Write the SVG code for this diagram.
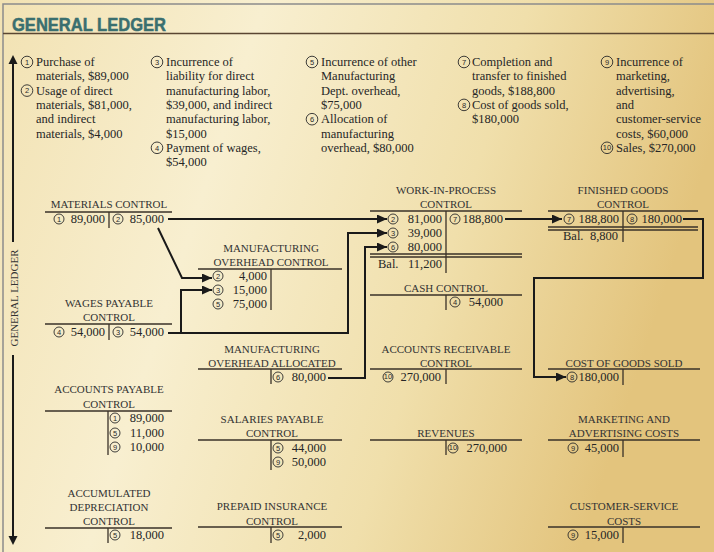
<svg xmlns="http://www.w3.org/2000/svg" width="714" height="552" viewBox="0 0 714 552">
<defs>
<linearGradient id="bg" x1="0" y1="0" x2="1" y2="0.25">
<stop offset="0" stop-color="#f2e2b3"/>
<stop offset="0.35" stop-color="#f8efd0"/>
<stop offset="0.7" stop-color="#f0dfab"/>
<stop offset="1" stop-color="#e3c47d"/>
</linearGradient>
<marker id="ah" markerUnits="userSpaceOnUse" markerWidth="11" markerHeight="9" refX="10" refY="4.5" orient="auto">
<path d="M0,0 L10,4.5 L0,9 Z" fill="#1a1a1a"/>
</marker>
<style>
.t{font-family:"Liberation Serif",serif;font-size:11px;fill:#333;text-anchor:middle}
.e{font-family:"Liberation Serif",serif;font-size:12.5px;fill:#262626;text-anchor:end}
.b{font-family:"Liberation Serif",serif;font-size:12.5px;fill:#262626}
.d{font-family:"Liberation Serif",serif;font-size:12.5px;fill:#262626}
.c{fill:none;stroke:#2a2a2a;stroke-width:0.9}
.n{font-family:"Liberation Sans",sans-serif;font-size:7.5px;fill:#2a2a2a;text-anchor:middle}
.ln{stroke:#3a3228;stroke-width:1.3;fill:none}
.cn{stroke:#1a1a1a;stroke-width:2;fill:none;stroke-linejoin:miter}
</style>
</defs>
<rect x="0" y="0" width="714" height="552" fill="url(#bg)"/>
<path d="M3,552 V4 H714" stroke="#8c8c8c" stroke-width="1.5" fill="none"/>
<line x1="3" y1="33.5" x2="714" y2="33.5" stroke="#5a4632" stroke-width="1.5"/>
<text x="12" y="31" font-family="Liberation Sans, sans-serif" font-weight="bold" font-size="18" fill="#3a6f6f" stroke="#3a6f6f" stroke-width="0.5" textLength="154" lengthAdjust="spacingAndGlyphs">GENERAL LEDGER</text>

<g id="side-axis">
<line x1="13" y1="58" x2="13" y2="242" stroke="#1a1a1a" stroke-width="2"/>
<path d="M8.5,64 L13,55 L17.5,64 Z" fill="#1a1a1a"/>
<line x1="13" y1="355" x2="13" y2="537" stroke="#1a1a1a" stroke-width="2"/>
<path d="M8.5,536 L13,545 L17.5,536 Z" fill="#1a1a1a"/>
<text transform="translate(18,298) rotate(-90)" x="0" y="0" font-family="Liberation Serif, serif" font-size="11" fill="#333" text-anchor="middle">GENERAL  LEDGER</text>
</g>

<g id="descriptions">
<circle class="c" cx="27" cy="62" r="5.8"/><text class="n" x="27" y="64.7">1</text>
<text class="d" x="36" y="66">Purchase of</text>
<text class="d" x="36" y="80.3">materials, $89,000</text>
<circle class="c" cx="27" cy="90.6" r="5.8"/><text class="n" x="27" y="93.3">2</text>
<text class="d" x="36" y="94.6">Usage of direct</text>
<text class="d" x="36" y="108.9">materials, $81,000,</text>
<text class="d" x="36" y="123.2">and indirect</text>
<text class="d" x="36" y="137.5">materials, $4,000</text>

<circle class="c" cx="157" cy="62" r="5.8"/><text class="n" x="157" y="64.7">3</text>
<text class="d" x="166" y="66">Incurrence of</text>
<text class="d" x="166" y="80.3">liability for direct</text>
<text class="d" x="166" y="94.6">manufacturing labor,</text>
<text class="d" x="166" y="108.9">$39,000, and indirect</text>
<text class="d" x="166" y="123.2">manufacturing labor,</text>
<text class="d" x="166" y="137.5">$15,000</text>
<circle class="c" cx="157" cy="147.8" r="5.8"/><text class="n" x="157" y="150.5">4</text>
<text class="d" x="166" y="151.8">Payment of wages,</text>
<text class="d" x="166" y="166.1">$54,000</text>

<circle class="c" cx="312" cy="62" r="5.8"/><text class="n" x="312" y="64.7">5</text>
<text class="d" x="321" y="66">Incurrence of other</text>
<text class="d" x="321" y="80.3">Manufacturing</text>
<text class="d" x="321" y="94.6">Dept. overhead,</text>
<text class="d" x="321" y="108.9">$75,000</text>
<circle class="c" cx="312" cy="119.2" r="5.8"/><text class="n" x="312" y="121.9">6</text>
<text class="d" x="321" y="123.2">Allocation of</text>
<text class="d" x="321" y="137.5">manufacturing</text>
<text class="d" x="321" y="151.8">overhead, $80,000</text>

<circle class="c" cx="464" cy="62" r="5.8"/><text class="n" x="464" y="64.7">7</text>
<text class="d" x="472" y="66">Completion and</text>
<text class="d" x="472" y="80.3">transfer to finished</text>
<text class="d" x="472" y="94.6">goods, $188,800</text>
<circle class="c" cx="464" cy="104.9" r="5.8"/><text class="n" x="464" y="107.6">8</text>
<text class="d" x="472" y="108.9">Cost of goods sold,</text>
<text class="d" x="472" y="123.2">$180,000</text>

<circle class="c" cx="607" cy="62" r="5.8"/><text class="n" x="607" y="64.7">9</text>
<text class="d" x="616" y="66">Incurrence of</text>
<text class="d" x="616" y="80.3">marketing,</text>
<text class="d" x="616" y="94.6">advertising,</text>
<text class="d" x="616" y="108.9">and</text>
<text class="d" x="616" y="123.2">customer-service</text>
<text class="d" x="616" y="137.5">costs, $60,000</text>
<circle class="c" cx="607" cy="147.8" r="5.8"/><text class="n" x="607" y="150.4" font-size="6.5">10</text>
<text class="d" x="616" y="151.8">Sales, $270,000</text>
</g>

<g id="connectors">
<path class="cn" d="M168,219 H387" marker-end="url(#ah)"/>
<path class="cn" d="M158,228 L182,278 H212" marker-end="url(#ah)"/>
<path class="cn" d="M168,333 H181 V290 H212" marker-end="url(#ah)"/>
<path class="cn" d="M181,333 H348 V233 H387" marker-end="url(#ah)"/>
<path class="cn" d="M328,378 H365 V247 H387" marker-end="url(#ah)"/>
<path class="cn" d="M505,219 H562" marker-end="url(#ah)"/>
<path class="cn" d="M683,219 H703 V278 H534 V377 H566" marker-end="url(#ah)"/>
</g>

<g id="materials-control">
<text class="t" x="109" y="208">MATERIALS CONTROL</text>
<path class="ln" d="M45,212 H172 M109,212 V228"/>
<circle class="c" cx="59" cy="219" r="5"/><text class="n" x="59" y="221.7">1</text>
<text class="e" x="105" y="223">89,000</text>
<circle class="c" cx="118" cy="219" r="5"/><text class="n" x="118" y="221.7">2</text>
<text class="e" x="164" y="223">85,000</text>
</g>

<g id="wages-payable-control">
<text class="t" x="109" y="307">WAGES PAYABLE</text>
<text class="t" x="109" y="321">CONTROL</text>
<path class="ln" d="M45,324 H172 M109,324 V340"/>
<circle class="c" cx="59" cy="332" r="5"/><text class="n" x="59" y="334.7">4</text>
<text class="e" x="105" y="336">54,000</text>
<circle class="c" cx="118" cy="332" r="5"/><text class="n" x="118" y="334.7">3</text>
<text class="e" x="164" y="336">54,000</text>
</g>

<g id="moh-control">
<text class="t" x="271" y="252">MANUFACTURING</text>
<text class="t" x="271" y="266">OVERHEAD CONTROL</text>
<path class="ln" d="M198,269 H342 M271,269 V310"/>
<circle class="c" cx="218" cy="276" r="5"/><text class="n" x="218" y="278.7">2</text>
<text class="e" x="267" y="280">4,000</text>
<circle class="c" cx="218" cy="290" r="5"/><text class="n" x="218" y="292.7">3</text>
<text class="e" x="267" y="294">15,000</text>
<circle class="c" cx="218" cy="304" r="5"/><text class="n" x="218" y="306.7">5</text>
<text class="e" x="267" y="308">75,000</text>
</g>

<g id="wip-control">
<text class="t" x="446" y="194">WORK-IN-PROCESS</text>
<text class="t" x="446" y="208">CONTROL</text>
<path class="ln" d="M370,211 H522 M446,211 V273 M370,254 H522 M370,257 H522"/>
<circle class="c" cx="393" cy="219" r="5"/><text class="n" x="393" y="221.7">2</text>
<text class="e" x="442" y="223">81,000</text>
<circle class="c" cx="393" cy="233" r="5"/><text class="n" x="393" y="235.7">3</text>
<text class="e" x="442" y="237">39,000</text>
<circle class="c" cx="393" cy="247" r="5"/><text class="n" x="393" y="249.7">6</text>
<text class="e" x="442" y="251">80,000</text>
<circle class="c" cx="455" cy="219" r="5"/><text class="n" x="455" y="221.7">7</text>
<text class="e" x="503" y="223">188,800</text>
<text class="b" x="378" y="268">Bal.</text>
<text class="e" x="442" y="268">11,200</text>
</g>

<g id="finished-goods-control">
<text class="t" x="623" y="194">FINISHED GOODS</text>
<text class="t" x="623" y="208">CONTROL</text>
<path class="ln" d="M548,211 H698 M623,211 V242 M548,227 H698 M548,230 H698"/>
<circle class="c" cx="569" cy="219" r="5"/><text class="n" x="569" y="221.7">7</text>
<text class="e" x="619" y="223">188,800</text>
<circle class="c" cx="632" cy="219" r="5"/><text class="n" x="632" y="221.7">8</text>
<text class="e" x="682" y="223">180,000</text>
<text class="b" x="563" y="240">Bal.</text>
<text class="e" x="618" y="240">8,800</text>
</g>

<g id="cash-control">
<text class="t" x="446" y="292">CASH CONTROL</text>
<path class="ln" d="M370,295 H522 M446,295 V310"/>
<circle class="c" cx="455" cy="302" r="5"/><text class="n" x="455" y="304.7">4</text>
<text class="e" x="503" y="306">54,000</text>
</g>

<g id="moh-allocated">
<text class="t" x="272" y="353">MANUFACTURING</text>
<text class="t" x="272" y="367">OVERHEAD ALLOCATED</text>
<path class="ln" d="M198,369 H342 M271,369 V384"/>
<circle class="c" cx="278" cy="377" r="5"/><text class="n" x="278" y="379.7">6</text>
<text class="e" x="326" y="381">80,000</text>
</g>

<g id="accounts-receivable-control">
<text class="t" x="446" y="353">ACCOUNTS RECEIVABLE</text>
<text class="t" x="446" y="367">CONTROL</text>
<path class="ln" d="M370,369 H522 M446,369 V384"/>
<circle class="c" cx="388" cy="377" r="5"/><text class="n" x="388" y="379.4" font-size="6.5">10</text>
<text class="e" x="441" y="381">270,000</text>
</g>

<g id="cost-of-goods-sold">
<text class="t" x="624" y="367">COST OF GOODS SOLD</text>
<path class="ln" d="M548,369 H700 M623,369 V385"/>
<circle class="c" cx="572" cy="377" r="5"/><text class="n" x="572" y="379.7">8</text>
<text class="e" x="619" y="381">180,000</text>
</g>

<g id="accounts-payable-control">
<text class="t" x="109" y="393">ACCOUNTS PAYABLE</text>
<text class="t" x="109" y="408">CONTROL</text>
<path class="ln" d="M45,411 H172 M108,411 V455"/>
<circle class="c" cx="115" cy="418" r="5"/><text class="n" x="115" y="420.7">1</text>
<text class="e" x="164" y="422">89,000</text>
<circle class="c" cx="115" cy="433" r="5"/><text class="n" x="115" y="435.7">5</text>
<text class="e" x="164" y="437">11,000</text>
<circle class="c" cx="115" cy="447" r="5"/><text class="n" x="115" y="449.7">9</text>
<text class="e" x="164" y="451">10,000</text>
</g>

<g id="salaries-payable-control">
<text class="t" x="272" y="423">SALARIES PAYABLE</text>
<text class="t" x="272" y="437">CONTROL</text>
<path class="ln" d="M198,440 H342 M271,440 V470"/>
<circle class="c" cx="278" cy="448" r="5"/><text class="n" x="278" y="450.7">5</text>
<text class="e" x="326" y="452">44,000</text>
<circle class="c" cx="278" cy="462" r="5"/><text class="n" x="278" y="464.7">9</text>
<text class="e" x="326" y="466">50,000</text>
</g>

<g id="revenues">
<text class="t" x="446" y="437">REVENUES</text>
<path class="ln" d="M370,440 H522 M446,440 V455"/>
<circle class="c" cx="453" cy="448" r="5"/><text class="n" x="453" y="450.4" font-size="6.5">10</text>
<text class="e" x="507" y="452">270,000</text>
</g>

<g id="marketing-advertising-costs">
<text class="t" x="624" y="423">MARKETING AND</text>
<text class="t" x="624" y="437">ADVERTISING COSTS</text>
<path class="ln" d="M548,440 H700 M623,440 V457"/>
<circle class="c" cx="573" cy="448" r="5"/><text class="n" x="573" y="450.7">9</text>
<text class="e" x="619" y="452">45,000</text>
</g>

<g id="accumulated-depreciation-control">
<text class="t" x="109" y="497">ACCUMULATED</text>
<text class="t" x="109" y="511">DEPRECIATION</text>
<text class="t" x="109" y="525">CONTROL</text>
<path class="ln" d="M45,528 H172 M108,528 V543"/>
<circle class="c" cx="115" cy="535" r="5"/><text class="n" x="115" y="537.7">5</text>
<text class="e" x="164" y="539">18,000</text>
</g>

<g id="prepaid-insurance-control">
<text class="t" x="272" y="510">PREPAID INSURANCE</text>
<text class="t" x="272" y="525">CONTROL</text>
<path class="ln" d="M198,527 H342 M271,527 V543"/>
<circle class="c" cx="278" cy="535" r="5"/><text class="n" x="278" y="537.7">5</text>
<text class="e" x="326" y="539">2,000</text>
</g>

<g id="customer-service-costs">
<text class="t" x="624" y="510">CUSTOMER-SERVICE</text>
<text class="t" x="624" y="525">COSTS</text>
<path class="ln" d="M548,527 H700 M623,527 V543"/>
<circle class="c" cx="573" cy="535" r="5"/><text class="n" x="573" y="537.7">9</text>
<text class="e" x="619" y="539">15,000</text>
</g>
</svg>
